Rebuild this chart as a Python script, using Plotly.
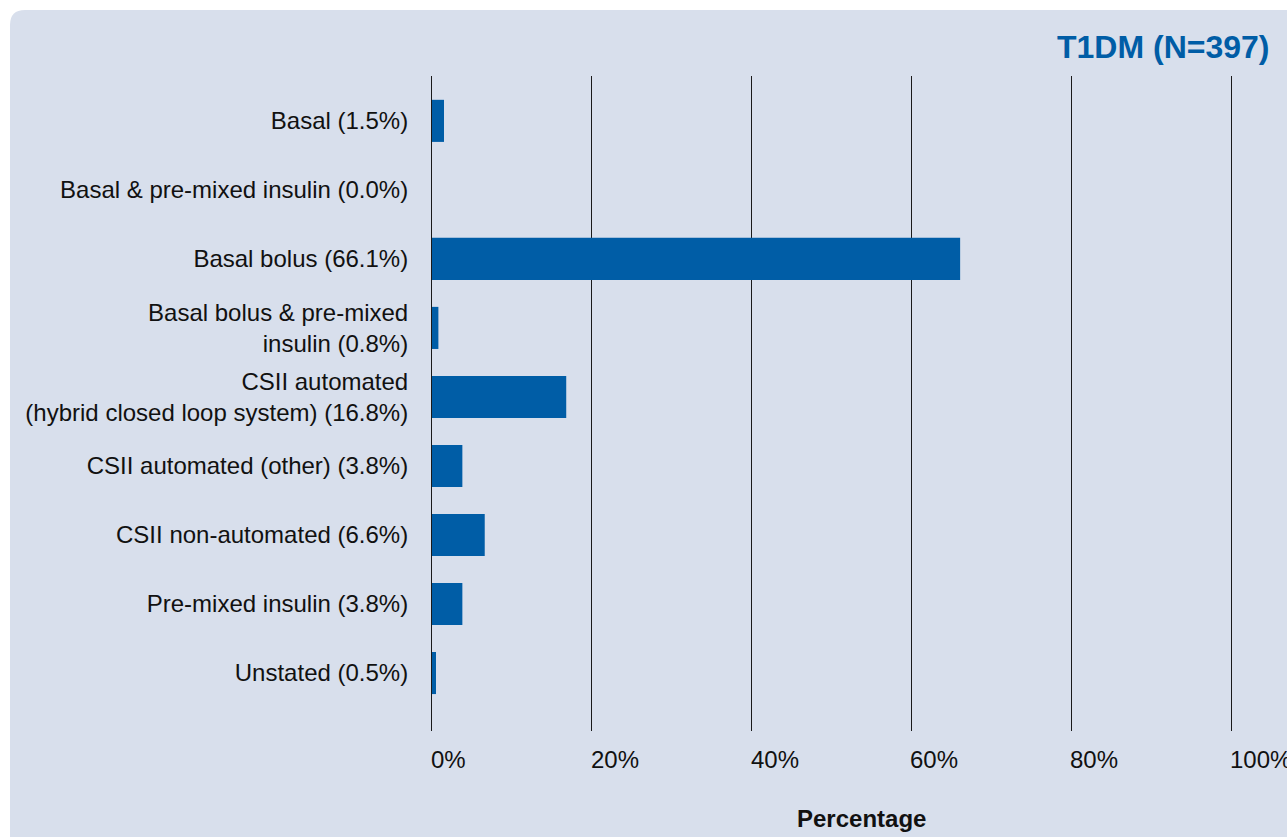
import plotly.graph_objects as go

# Insulin regimen distribution, type 1 diabetes cohort
categories = [
    "Basal (1.5%)",
    "Basal & pre-mixed insulin (0.0%)",
    "Basal bolus (66.1%)",
    "Basal bolus & pre-mixed<br>insulin (0.8%)",
    "CSII automated<br>(hybrid closed loop system) (16.8%)",
    "CSII automated (other) (3.8%)",
    "CSII non-automated (6.6%)",
    "Pre-mixed insulin (3.8%)",
    "Unstated (0.5%)",
]
percentages = [1.5, 0.0, 66.1, 0.8, 16.8, 3.8, 6.6, 3.8, 0.5]
x_ticks = [0, 20, 40, 60, 80, 100]
x_tick_labels = ["0%", "20%", "40%", "60%", "80%", "100%"]
title_text = "T1DM (N=397)"
x_title = "Percentage"

W, H = 1287, 837
ML, MR, MT, MB = 432, 56, 76, 106
PW, PH = W - ML - MR, H - MT - MB

FONT = "Liberation Sans, Arial, Helvetica, sans-serif"
BLUE = "#005da6"
PANEL = "#d8dfec"
INK = "#111111"
GRID = "#1a1a1a"


def px_x(px):
    return (px - ML) / PW


def px_y(py):
    return (H - MB - py) / PH


rows = list(range(len(categories)))

fig = go.Figure(
    go.Bar(
        x=percentages,
        y=rows,
        orientation="h",
        marker=dict(color=BLUE, line=dict(width=0)),
        width=0.61,
        hoverinfo="skip",
    )
)

# Rounded background panel
x0, y0, x1, y1, r = px_x(10), px_y(10), px_x(1320), px_y(870), 15
rx, ry = r / PW, r / PH
panel_path = (
    f"M {x0 + rx} {y0} L {x1} {y0} L {x1} {y1} L {x0} {y1} "
    f"L {x0} {y0 - ry} Q {x0} {y0} {x0 + rx} {y0} Z"
)
fig.add_shape(
    type="path", path=panel_path, xref="paper", yref="paper",
    fillcolor=PANEL, line=dict(width=0), layer="below",
)

# Left-aligned percentage labels under each gridline
for v, t in zip(x_ticks, x_tick_labels):
    fig.add_annotation(
        x=v, y=px_y(759), xref="x", yref="paper", text=t,
        showarrow=False, xanchor="left", yanchor="middle", xshift=-3,
        font=dict(family=FONT, size=24, color=INK),
    )

fig.add_annotation(
    x=px_x(861), y=px_y(818), xref="paper", yref="paper", text=f"<b>{x_title}</b>",
    showarrow=False, xanchor="center", yanchor="middle",
    font=dict(family=FONT, size=24, color=INK),
)

fig.add_annotation(
    x=px_x(1272), y=px_y(47), xref="paper", yref="paper", text=f"<b>{title_text}</b>",
    showarrow=False, xanchor="right", yanchor="middle",
    font=dict(family=FONT, size=32, color=BLUE),
)

fig.update_layout(
    width=W, height=H,
    margin=dict(l=ML, r=MR, t=MT, b=MB, pad=0),
    paper_bgcolor="white",
    plot_bgcolor="rgba(0,0,0,0)",
    showlegend=False,
    bargap=0.39,
    font=dict(family=FONT, size=24, color=INK),
)
fig.update_xaxes(
    range=[0, 100], tickvals=x_ticks, showticklabels=False,
    showgrid=True, gridcolor=GRID, gridwidth=1,
    zeroline=False, showline=False, fixedrange=True,
)
# The y-axis line (mirrored) supplies the 0% and 100% gridlines
fig.update_yaxes(
    range=[8.84, -0.65], tickvals=rows, ticktext=categories,
    showgrid=False, zeroline=False,
    showline=True, linecolor=GRID, linewidth=1, mirror=True,
    ticks="", ticklabelstandoff=18,
    tickfont=dict(family=FONT, size=24, color=INK),
    fixedrange=True,
)

fig.write_html("out.html")
